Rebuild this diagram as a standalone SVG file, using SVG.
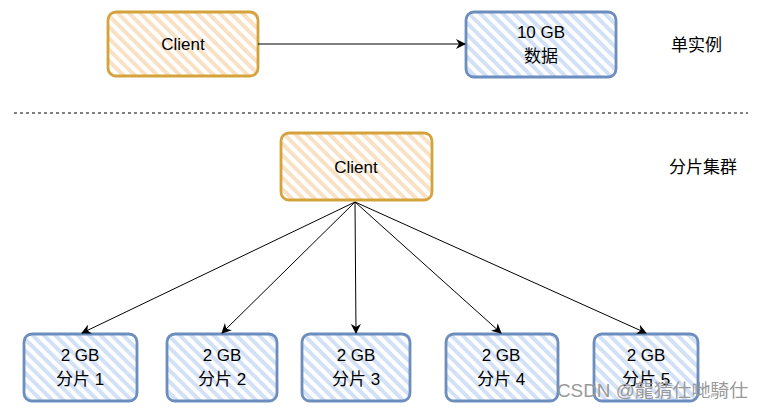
<svg xmlns="http://www.w3.org/2000/svg" width="764" height="410" viewBox="0 0 764 410">
<defs>
<pattern id="hO" patternUnits="userSpaceOnUse" width="8" height="8" patternTransform="rotate(-45)">
<rect x="0" y="0" width="4" height="8" fill="#f8e1c4"/>
</pattern>
<pattern id="hB" patternUnits="userSpaceOnUse" width="8" height="8" patternTransform="rotate(-45)">
<rect x="0" y="0" width="4" height="8" fill="#d3e1f7"/>
</pattern>
<marker id="ah" viewBox="0 0 10 10" refX="9" refY="5" markerWidth="10" markerHeight="10" markerUnits="userSpaceOnUse" orient="auto">
<path d="M0,0 L10,5 L0,10 L3,5 Z" fill="#000"/>
</marker>
</defs>
<style>
.o{fill:url(#hO);stroke:#d5a33b;stroke-width:2.8}
.b{fill:url(#hB);stroke:#6c8ebf;stroke-width:2.8}
.t{font-family:"Liberation Sans","Noto Sans CJK SC",sans-serif;font-size:17px;fill:#000;text-anchor:middle}
.l{font-family:"Noto Sans CJK SC","Liberation Sans",sans-serif;font-size:17px;fill:#000}
.c{stroke:#000;stroke-width:1;fill:none;marker-end:url(#ah)}
</style>
<rect width="764" height="410" fill="#fff"/>
<g id="client1"><rect class="o" x="108" y="12" width="150" height="64" rx="8"/><text class="t" x="183" y="50">Client</text></g>
<g id="data10"><rect class="b" x="466" y="12" width="150" height="65" rx="8"/><text class="t" x="541" y="38">10 GB</text><text class="t" x="541" y="62">数据</text></g>
<g id="client2"><rect class="o" x="281" y="133" width="151" height="67" rx="8"/><text class="t" x="356" y="173">Client</text></g>
<g id="s1"><rect class="b" x="24" y="334" width="113" height="67" rx="8"/><text class="t" x="80" y="361">2 GB</text><text class="t" x="80" y="385">分片 1</text></g>
<g id="s2"><rect class="b" x="167" y="334" width="110" height="67" rx="8"/><text class="t" x="222" y="361">2 GB</text><text class="t" x="222" y="385">分片 2</text></g>
<g id="s3"><rect class="b" x="302" y="334" width="108" height="67" rx="8"/><text class="t" x="356" y="361">2 GB</text><text class="t" x="356" y="385">分片 3</text></g>
<g id="s4"><rect class="b" x="446" y="334" width="112" height="67" rx="8"/><text class="t" x="501" y="361">2 GB</text><text class="t" x="501" y="385">分片 4</text></g>
<g id="s5"><rect class="b" x="594" y="334" width="104" height="67" rx="8"/><text class="t" x="646" y="361">2 GB</text><text class="t" x="646" y="385">分片 5</text></g>
<g id="connectors">
<line class="c" x1="258" y1="44" x2="465" y2="44"/>
<line class="c" x1="355" y1="202" x2="82" y2="333"/>
<line class="c" x1="355" y1="202" x2="222" y2="333"/>
<line class="c" x1="355" y1="202" x2="356" y2="333"/>
<line class="c" x1="355" y1="202" x2="501" y2="333"/>
<line class="c" x1="355" y1="202" x2="646" y2="333"/>
</g>
<line x1="14" y1="113" x2="748" y2="113" stroke="#000" stroke-width="1" stroke-dasharray="3,3"/>
<text class="l" x="671" y="51">单实例</text>
<text class="l" x="669" y="173">分片集群</text>
<text x="557" y="397" font-family="'Liberation Sans','Noto Sans CJK TC',sans-serif" font-size="18" fill="#999" textLength="191" lengthAdjust="spacingAndGlyphs">CSDN @龍猜仕哋騎仕</text>
</svg>
